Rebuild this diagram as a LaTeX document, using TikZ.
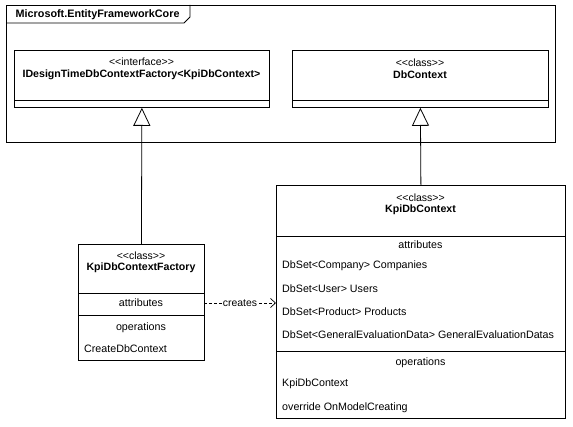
\documentclass[tikz,border=0pt]{standalone}
\usepackage{fontspec}
\setmainfont{Liberation Sans}[Ligatures=TeXOff]
\usetikzlibrary{arrows.meta}
\begin{document}
\begin{tikzpicture}[x=1pt,y=-1pt,
  box/.style={draw=black, line width=0.8pt, fill=white, anchor=north west, inner sep=0pt},
  sep/.style={draw=black, line width=0.8pt},
  txt/.style={font=\fontsize{10.7}{12}\selectfont, inner sep=0pt, anchor=center},
  ltxt/.style={font=\fontsize{10.7}{12}\selectfont, inner sep=0pt, anchor=west},
  ster/.style={font=\fontsize{10.5}{12}\selectfont, inner sep=0pt, anchor=center},
  bname/.style={font=\fontsize{10.6}{12}\selectfont\bfseries, inner sep=0pt, anchor=center},
  gen/.style={draw=black, line width=0.8pt, -{Triangle[open, width=17pt, length=18pt, line width=0.8pt]}},
  dep/.style={draw=black, line width=0.7pt, dash pattern=on 3pt off 2pt, -{Straight Barb[length=5pt, width=9pt, line width=0.7pt]}}
]
\useasboundingbox (0,0) rectangle (573,427);
% package frame
\draw[line width=0.8pt] (6,5) rectangle (555,142);
\draw[line width=0.8pt] (6,23) -- (184,23) -- (190,17) -- (190,5);
\node[font=\fontsize{10.8}{12}\selectfont\bfseries, inner sep=0pt, anchor=west] (pkg) at (15.5,14.5) {Microsoft.EntityFrameworkCore};

% interface
\node[box, minimum width=255pt, minimum height=57pt] (iface) at (14,50) {};
\draw[sep] (14,100) -- (269,100);
\node[ster] (ifaceS) at (141.5,62) {<<interface>>};
\node[bname] (ifaceN) at (141.5,75) {IDesignTimeDbContextFactory<KpiDbContext>};

% DbContext
\node[box, minimum width=256pt, minimum height=57pt] (dbc) at (292,50) {};
\draw[sep] (292,100) -- (548,100);
\node[ster] (dbcS) at (420,63) {<<class>>};
\node[bname] (dbcN) at (420,75) {DbContext};

% Factory
\node[box, minimum width=126pt, minimum height=116pt] (fac) at (78,244) {};
\draw[sep] (78,293) -- (204,293);
\draw[sep] (78,315) -- (204,315);
\node[ster] (facS) at (141,256) {<<class>>};
\node[bname] (facN) at (141,268) {KpiDbContextFactory};
\node[txt] (facA) at (141,303) {attributes};
\node[txt] (facO) at (141,328) {operations};
\node[ltxt] (facM) at (84,349) {CreateDbContext};
\coordinate (facAttr) at (204,303);

% KpiDbContext
\node[box, minimum width=289pt, minimum height=233pt] (kpi) at (276,185) {};
\draw[sep] (276,236) -- (565,236);
\draw[sep] (276,351) -- (565,351);
\node[ster] (kpiS) at (420.5,197.5) {<<class>>};
\node[bname] (kpiN) at (420.5,210) {KpiDbContext};
\node[txt] (kpiA) at (420.5,245) {attributes};
\node[ltxt] (a1) at (282,266) {DbSet<Company> Companies};
\node[ltxt] (a2) at (282,289) {DbSet<User> Users};
\node[ltxt] (a3) at (282,312) {DbSet<Product> Products};
\node[ltxt] (a4) at (282,335) {DbSet<GeneralEvaluationData> GeneralEvaluationDatas};
\node[txt] (kpiO) at (420.5,363) {operations};
\node[ltxt] (o1) at (282,384) {KpiDbContext};
\node[ltxt] (o2) at (282,408) {override OnModelCreating};

% connectors
\draw[gen] (fac.north) -- (iface.south);
\draw[gen] (kpi.north) -- (dbc.south);
\draw[dep] (facAttr) -- (kpi.west |- facAttr)
  node[midway, fill=white, inner sep=1pt, font=\fontsize{10.4}{12}\selectfont] (lbl) {creates};
\end{tikzpicture}
\end{document}
